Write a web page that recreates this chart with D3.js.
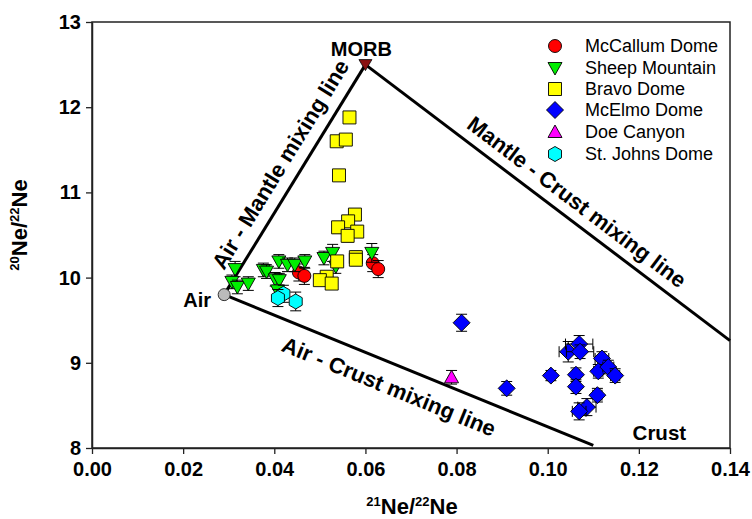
<!DOCTYPE html>
<html><head><meta charset="utf-8">
<script src="https://cdn.jsdelivr.net/npm/d3@7"></script>
<style>
body{margin:0;background:#fff}
text{font-family:"Liberation Sans",Arial,Helvetica,sans-serif}
</style></head>
<body><svg id="c" width="752" height="519"></svg>
<script>
// ---------- DATA ----------
const xTicks = [0.00,0.02,0.04,0.06,0.08,0.10,0.12,0.14];
const yTicks = [8,9,10,11,12,13];
const seriesNames = ["McCallum Dome","Sheep Mountain","Bravo Dome","McElmo Dome","Doe Canyon","St. Johns Dome"];
const seriesColors = ["#ff0000","#00ee00","#ffff00","#0000ff","#ff00ff","#00ffff"];
const seriesShapes = ["circle","triDown","square","diamond","triUp","hexagon"];

const mccallumX = [0.0454,0.0466,0.0616,0.0628];
const mccallumY = [10.06,10.02,10.17,10.10];
const mccallumErr = [0.10,0.10,0.10,0.10];

const sheepX = [0.0314,0.0307,0.0319,0.0343,0.0376,0.0383,0.0402,0.0411,0.0410,0.0429,0.0445,0.0467,0.0509,0.0528,0.0535,0.0614,0.0407];
const sheepY = [10.10,9.95,9.89,9.93,10.09,10.07,9.98,9.97,10.19,10.15,10.15,10.19,10.23,10.29,10.13,10.29,9.85];
const sheepErr = [0.09,0.08,0.08,0.08,0.08,0.08,0.08,0.08,0.08,0.08,0.08,0.08,0.08,0.10,0.08,0.11,0.06];

const bravoX = [0.0565,0.0537,0.0557,0.0542,0.0577,0.0562,0.0540,0.0582,0.0561,0.0538,0.0579,0.0579,0.0515,0.0500,0.0526];
const bravoY = [11.88,11.60,11.62,11.20,10.74,10.66,10.59,10.54,10.49,10.19,10.24,10.21,10.01,9.97,9.93];
const bravoErr = [0.06,0.06,0.06,0.06,0.07,0.07,0.07,0.07,0.07,0.07,0.07,0.07,0.06,0.06,0.06];

const mcelmoX = [0.0811,0.0910,0.1007,0.1045,0.1069,0.1071,0.1119,0.1062,0.1062,0.1111,0.1133,0.1148,0.1109,0.1086,0.1069];
const mcelmoY = [9.47,8.70,8.85,9.13,9.22,9.13,9.05,8.86,8.72,8.90,8.95,8.85,8.62,8.48,8.43];
const mcelmoErr = [0.10,0.08,0.06,0.12,0.10,0.08,0.08,0.08,0.08,0.08,0.08,0.08,0.08,0.10,0.10];
const mcelmoXErr = [0.0005,0.0006,0.0008,0.0020,0.0030,0.0030,0.0015,0.0008,0.0008,0.0010,0.0012,0.0010,0.0010,0.0020,0.0015];

const doeX = [0.0789];
const doeY = [8.83];
const doeErr = [0.08];

const stjohnsX = [0.0420,0.0408,0.0447];
const stjohnsY = [9.81,9.76,9.72];
const stjohnsErr = [0.10,0.10,0.11];

const airPoint = [0.029, 9.80];
const morbPoint = [0.060, 12.50];
const mantleCrustEnd = [0.140, 9.26];
const airCrustEnd = [0.110, 8.03];

// ---------- CHART ----------
const svg = d3.select("#c");
const x = d3.scaleLinear().domain([0,0.14]).range([92,730]);
const y = d3.scaleLinear().domain([8,13]).range([448,22]);

// axes
const gx = svg.append("g").attr("transform","translate(0,448)")
  .call(d3.axisBottom(x).tickValues(xTicks).tickSize(6).tickSizeOuter(0).tickPadding(8).tickFormat(d3.format(".2f")));
const gy = svg.append("g").attr("transform","translate(92,0)")
  .call(d3.axisLeft(y).tickValues(yTicks).tickSize(6).tickSizeOuter(0).tickPadding(5).tickFormat(d3.format("d")));
[gx,gy].forEach(g=>{
  g.selectAll("text").attr("font-size",20).attr("font-weight","bold").attr("fill","#000");
  g.selectAll("line").attr("stroke","#222").attr("stroke-width",1.3);
  g.select(".domain").attr("stroke","#222").attr("stroke-width",1.5);
});
svg.append("rect").attr("x",92).attr("y",22).attr("width",638).attr("height",426)
  .attr("fill","none").attr("stroke","#222").attr("stroke-width",1.5);

// axis titles
const xt = svg.append("text").attr("x",412).attr("y",514).attr("text-anchor","middle")
  .attr("font-size",22).attr("font-weight","bold");
xt.append("tspan").attr("font-size",13).attr("dy",-8).text("21");
xt.append("tspan").attr("dy",8).text("Ne/");
xt.append("tspan").attr("font-size",13).attr("dy",-8).text("22");
xt.append("tspan").attr("dy",8).text("Ne");
const yt = svg.append("text").attr("transform","translate(27,225) rotate(-90)").attr("text-anchor","middle")
  .attr("font-size",22).attr("font-weight","bold");
yt.append("tspan").attr("font-size",13).attr("dy",-8).text("20");
yt.append("tspan").attr("dy",8).text("Ne/");
yt.append("tspan").attr("font-size",13).attr("dy",-8).text("22");
yt.append("tspan").attr("dy",8).text("Ne");

// mixing lines
const lines = [[airPoint,morbPoint],[morbPoint,mantleCrustEnd],[airPoint,airCrustEnd]];
lines.forEach(([a,b])=>{
  svg.append("line").attr("x1",x(a[0])).attr("y1",y(a[1])).attr("x2",x(b[0])).attr("y2",y(b[1]))
    .attr("stroke","#000").attr("stroke-width",3);
});
function lineLabel(a,b,t,off,txt){
  const x1=x(a[0]),y1=y(a[1]),x2=x(b[0]),y2=y(b[1]);
  const dx=x2-x1, dy=y2-y1, L=Math.hypot(dx,dy);
  let ang=Math.atan2(dy,dx)*180/Math.PI;
  let nx=dy/L, ny=-dx/L; // normal
  const px=x1+dx*t+nx*off, py=y1+dy*t+ny*off;
  svg.append("text").attr("transform",`translate(${px},${py}) rotate(${ang})`)
    .attr("text-anchor","middle").attr("dominant-baseline","central")
    .attr("font-size",22).attr("font-weight","bold").text(txt);
}
lineLabel(airPoint,morbPoint,0.52,20,"Air - Mantle mixing line");
lineLabel(morbPoint,mantleCrustEnd,0.55,18,"Mantle - Crust mixing line");
lineLabel(airPoint,airCrustEnd,0.47,-23,"Air - Crust mixing line");

// end-member labels
svg.append("text").attr("x",x(morbPoint[0])-4).attr("y",y(morbPoint[1])-8.5).attr("text-anchor","middle")
  .attr("font-size",20).attr("font-weight","bold").text("MORB");
svg.append("text").attr("x",x(airPoint[0])-13).attr("y",y(airPoint[1])+12).attr("text-anchor","end")
  .attr("font-size",20).attr("font-weight","bold").text("Air");
svg.append("text").attr("x",x(0.1245)).attr("y",y(8.13)+3).attr("text-anchor","middle")
  .attr("font-size",20.5).attr("font-weight","bold").text("Crust");

// marker helper
function shapePath(shape){
  switch(shape){
    case "circle": {const p=d3.path();p.arc(0,0,6.5,0,2*Math.PI);return p.toString();}
    case "triDown": return "M-7,-5.5L7,-5.5L0,7Z";
    case "triUp": return "M-7,5.5L7,5.5L0,-7Z";
    case "square": return "M-6.5,-6.5H6.5V6.5H-6.5Z";
    case "diamond": return "M0,-8.5L8.5,0L0,8.5L-8.5,0Z";
    case "hexagon": {
      const r=7.5; let s="";
      for(let i=0;i<6;i++){const a=Math.PI/3*i-Math.PI/2; s+=(i?"L":"M")+(r*Math.cos(a)).toFixed(2)+","+(r*Math.sin(a)).toFixed(2);}
      return s+"Z";
    }
  }
}
function marker(g,shape,color,cx,cy){
  g.append("path").attr("d",shapePath(shape)).attr("transform",`translate(${cx},${cy})`)
    .attr("fill",color).attr("stroke","#000").attr("stroke-width",0.9);
}

const allSeries = [
  {xs:mccallumX,ys:mccallumY,ye:mccallumErr},
  {xs:sheepX,ys:sheepY,ye:sheepErr},
  {xs:bravoX,ys:bravoY,ye:bravoErr},
  {xs:mcelmoX,ys:mcelmoY,ye:mcelmoErr,xe:mcelmoXErr},
  {xs:doeX,ys:doeY,ye:doeErr},
  {xs:stjohnsX,ys:stjohnsY,ye:stjohnsErr}
];
const gp = svg.append("g");
allSeries.forEach((s,si)=>{
  s.xs.forEach((xv,i)=>{
    const cx=x(xv), cy=y(s.ys[i]);
    const eb=gp.append("g").attr("stroke","#000").attr("stroke-width",1);
    const y1=y(s.ys[i]+s.ye[i]), y2=y(s.ys[i]-s.ye[i]);
    eb.append("line").attr("x1",cx).attr("x2",cx).attr("y1",y1).attr("y2",y2);
    eb.append("line").attr("x1",cx-5.5).attr("x2",cx+5.5).attr("y1",y1).attr("y2",y1);
    eb.append("line").attr("x1",cx-5.5).attr("x2",cx+5.5).attr("y1",y2).attr("y2",y2);
    if(s.xe){
      const x1=x(xv-s.xe[i]), x2=x(xv+s.xe[i]);
      eb.append("line").attr("x1",x1).attr("x2",x2).attr("y1",cy).attr("y2",cy);
      eb.append("line").attr("x1",x1).attr("x2",x1).attr("y1",cy-5.5).attr("y2",cy+5.5);
      eb.append("line").attr("x1",x2).attr("x2",x2).attr("y1",cy-5.5).attr("y2",cy+5.5);
    }
    marker(gp,seriesShapes[si],seriesColors[si],cx,cy);
  });
});

// end-member markers
svg.append("circle").attr("cx",x(airPoint[0])).attr("cy",y(airPoint[1])).attr("r",6)
  .attr("fill","#bbbbbb").attr("stroke","#333").attr("stroke-width",1);
svg.append("path").attr("d","M-6.5,-5L6.5,-5L0,6Z").attr("transform",`translate(${x(morbPoint[0])},${y(morbPoint[1])})`)
  .attr("fill","#8b1010").attr("stroke","#000").attr("stroke-width",0.8);

// legend
const legY = [46,68,89,110,132,154];
seriesNames.forEach((n,i)=>{
  marker(svg,seriesShapes[i],seriesColors[i],555,legY[i]);
  svg.append("text").attr("x",585).attr("y",legY[i]).attr("dominant-baseline","central")
    .attr("font-size",18).text(n);
});
</script>
</body></html>
